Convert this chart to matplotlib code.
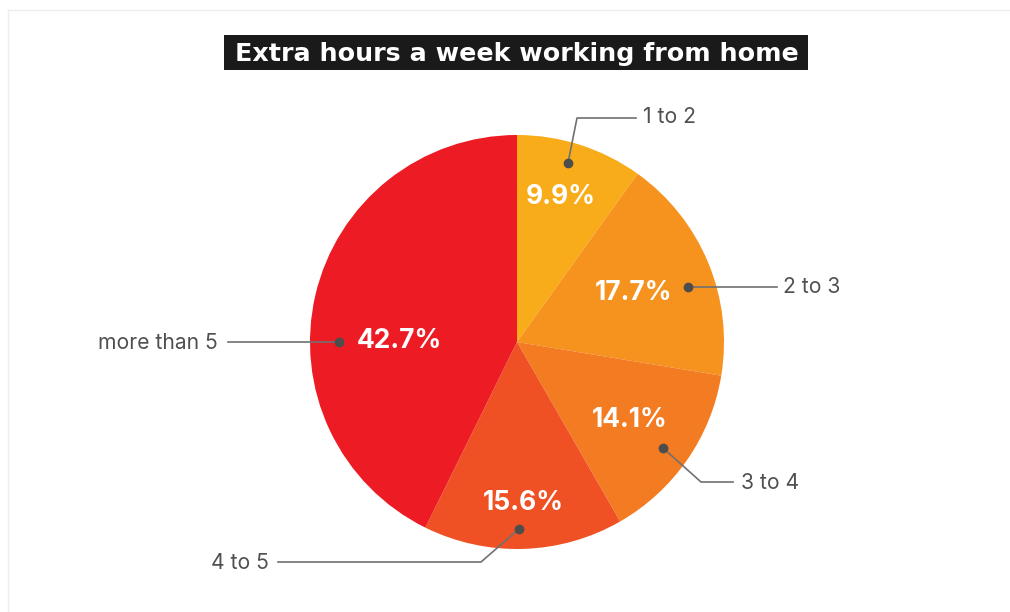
import matplotlib
matplotlib.use('Agg')
import matplotlib.pyplot as plt
from matplotlib.patches import Rectangle

# data
categories = ['1 to 2', '2 to 3', '3 to 4', '4 to 5', 'more than 5']
shares = [9.9, 17.7, 14.1, 15.6, 42.7]
colors = ['#F9AC1A', '#F6921E', '#F37B21', '#EF5124', '#ED1C24']
title = 'Extra hours a week working from home'

# layout (pixel coords, y down)
W, H = 1010, 612
cx, cy, rad = 517, 342, 207
pct_pos = [(561, 197), (634, 293), (630, 420), (523, 503), (399, 341)]
# leader lines: dot, path points, label anchor, alignment
callouts = [
    ((568, 163), [(568, 163), (577, 118), (636, 118)], (643, 117), 'left'),
    ((688, 287), [(688, 287), (777, 287)], (783, 287), 'left'),
    ((663, 448), [(663, 448), (701, 482), (733, 482)], (741, 483), 'left'),
    ((519, 529), [(519, 529), (481, 562), (278, 562)], (269, 563), 'right'),
    ((339, 342), [(339, 342), (228, 342)], (218, 343), 'right'),
]

plt.rcParams['font.family'] = ['Inter', 'DejaVu Sans']

fig = plt.figure(figsize=(W / 100, H / 100), dpi=100)
ax = fig.add_axes([0, 0, 1, 1])

ax.pie(shares, colors=colors, startangle=-90, counterclock=True,
       center=(cx, cy), radius=rad, wedgeprops=dict(linewidth=0))

ax.set_xlim(0, W)
ax.set_ylim(H, 0)
ax.set_aspect('equal')
ax.axis('off')

# faint frame lines
ax.plot([8, W], [10, 10], color='#eeeeee', lw=1)
ax.plot([8, 8], [10, H], color='#eeeeee', lw=1)

# title box
ax.add_patch(Rectangle((224, 35), 584, 35, facecolor='#1a1a1a', edgecolor='none'))
ax.text(517, 54, title, color='white', fontsize=18.3, fontweight='bold',
        family='DejaVu Sans', ha='center', va='center')

# percentage labels
for (px, py), v in zip(pct_pos, shares):
    ax.text(px, py, f'{v}%', color='white', fontsize=19, fontweight='bold',
            ha='center', va='center')

# callouts
for (dot, path, lab, ha), name in zip(callouts, categories):
    xs = [p[0] for p in path]
    ys = [p[1] for p in path]
    ax.plot(xs, ys, color='#707070', lw=1.2)
    ax.plot(dot[0], dot[1], 'o', color='#4d4d4d', ms=6)
    ax.text(lab[0], lab[1], name, color='#505050', fontsize=15.2,
            ha=ha, va='center')

fig.savefig('out.png', dpi=100, facecolor='white')
